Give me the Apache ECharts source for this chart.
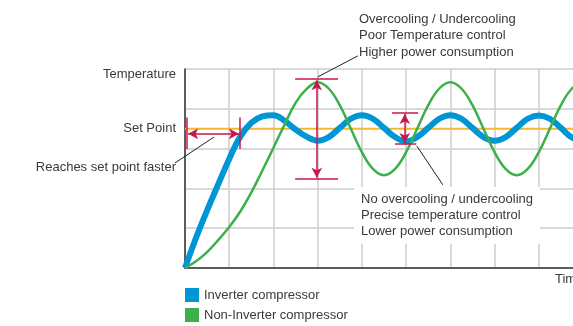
<!DOCTYPE html>
<html><head><meta charset="utf-8">
<script src="https://cdn.jsdelivr.net/npm/echarts@6/dist/echarts.min.js"></script>
<style>html,body{margin:0;padding:0;background:#fff}#c{width:573px;height:326px}</style>
</head><body><div id="c"></div>
<script>
// ---- data ----
const timeX = [0,0.25,0.5,0.75,1,1.25,1.5,1.75,2,2.25,2.5,2.75,3,3.25,3.5,3.75,4,4.25,4.5,4.75,5,5.25,5.5,5.75,6,6.25,6.5,6.75,7,7.25,7.5,7.75,8,8.25,8.5,8.75,9];
const inverter = [0,0.76,1.45,2.1,2.74,3.3,3.65,3.81,3.84,3.7,3.48,3.3,3.2,3.29,3.52,3.75,3.84,3.75,3.52,3.29,3.18,3.29,3.52,3.75,3.84,3.75,3.52,3.29,3.2,3.29,3.52,3.75,3.83,3.75,3.52,3.28,3.2];
const nonInverter = [0,0.17,0.4,0.7,1.03,1.42,1.9,2.45,3.02,3.6,4.15,4.5,4.67,4.51,4.09,3.5,2.91,2.49,2.33,2.49,2.91,3.5,4.09,4.51,4.67,4.51,4.09,3.5,2.91,2.49,2.33,2.49,2.91,3.5,4.09,4.51,4.67];
const setPoint = 3.5;
const seriesNames = ['Inverter compressor','Non-Inverter compressor'];
const yLabels = ['Temperature','Set Point','Reaches set point faster'];
const noteTop = ['Overcooling / Undercooling','Poor Temperature control','Higher power consumption'];
const noteBottom = ['No overcooling / undercooling','Precise temperature control','Lower power consumption'];
const xName = 'Time';

const FONT = '"Liberation Sans", Arial, sans-serif';
const TXT = '#3a3a3a';
const RED = '#c8174b';
const BLUE = '#0096d6';
const GREEN = '#3cb04a';

const chart = echarts.init(document.getElementById('c'));
const pair = arr => timeX.map((t,i)=>[t,arr[i]]);
const seg = (a,b,sa,sb)=>[{coord:a,symbol:sa||'none'},{coord:b,symbol:sb||'none'}];
const legendItem = (name, top) => ({data:[name], orient:'vertical', left:185, top:top, itemWidth:14, itemHeight:14,
    icon:'rect', padding:0, textStyle:{fontFamily:FONT, fontSize:13, color:TXT}, selectedMode:false});

const option = {
  animation:false,
  grid:{left:185, top:69, width:398, height:199, outerBoundsMode:'none', containLabel:false},
  xAxis:{type:'value', min:0, max:9, interval:1,
    axisLine:{show:true, onZero:false, lineStyle:{color:'#333', width:1.5}},
    axisTick:{show:false}, axisLabel:{show:false},
    splitLine:{show:true, lineStyle:{color:'#cccccc', width:1.5}}},
  yAxis:{type:'value', min:0, max:5, interval:1,
    axisLine:{show:true, lineStyle:{color:'#333', width:1.5}},
    axisTick:{show:false}, axisLabel:{show:false},
    splitLine:{show:true, lineStyle:{color:'#cccccc', width:1.5}}},
  legend:[legendItem(seriesNames[0], 288), legendItem(seriesNames[1], 308)],
  series:[
    {name:'setpoint', type:'line', data:[[0,setPoint],[9,setPoint]], symbol:'none',
     lineStyle:{color:'#f6b62d', width:2}, z:1, silent:true},
    {name:seriesNames[0], type:'line', data:pair(inverter), symbol:'none', smooth:0.4,
     lineStyle:{color:BLUE, width:6}, itemStyle:{color:BLUE}, z:2},
    {name:seriesNames[1], type:'line', data:pair(nonInverter), symbol:'none', smooth:0.4,
     lineStyle:{color:GREEN, width:2.5}, itemStyle:{color:GREEN}, z:3},
    {name:'annot', type:'line', data:[], z:4,
     markLine:{silent:true, animation:false, symbol:['none','none'], symbolSize:[8,10],
       label:{show:false}, lineStyle:{color:RED, width:1.5, type:'solid'}, emphasis:{disabled:true},
       data:[
         seg([0.05,3.78],[0.05,2.99]),
         seg([1.24,3.78],[1.24,2.99]),
         seg([0.07,3.37],[1.22,3.37],'arrow','arrow'),
         seg([2.49,4.75],[3.46,4.75]),
         seg([2.49,2.24],[3.46,2.24]),
         seg([2.98,4.72],[2.98,2.27],'arrow','arrow'),
         seg([4.68,3.89],[5.27,3.89]),
         seg([4.75,3.12],[5.23,3.12]),
         seg([4.97,3.87],[4.97,3.14],'arrow','arrow')
       ]}}
  ]
};
chart.setOption(option);

const px = p => chart.convertToPixel({gridIndex:0}, p);
const line = (a,b)=>{const p=px(a), q=px(b); return {type:'line', shape:{x1:p[0],y1:p[1],x2:q[0],y2:q[1]}, style:{stroke:'#222', lineWidth:1}, z:20};};
const text = (s,x,y,align)=>({type:'text', x:x, y:y, style:{text:s, fill:TXT, font:'13px '+FONT, textAlign:align||'left', textVerticalAlign:'middle'}, z:30});

const g = [
  line([0.655,3.29],[-0.226,2.64]),
  line([3.0,4.80],[3.91,5.33]),
  line([5.24,3.07],[5.83,2.09]),
  {type:'rect', shape:{x:354, y:187, width:186, height:57}, style:{fill:'#fff'}, z:25},
  text(yLabels[0],176,74,'right'),
  text(yLabels[1],176,128,'right'),
  text(yLabels[2],176,167,'right'),
  text(noteTop[0],359,19), text(noteTop[1],359,35.5), text(noteTop[2],359,52),
  text(noteBottom[0],361,199), text(noteBottom[1],361,215), text(noteBottom[2],361,231),
  text(xName,555,279)
];
chart.setOption({graphic:g});
</script></body></html>
